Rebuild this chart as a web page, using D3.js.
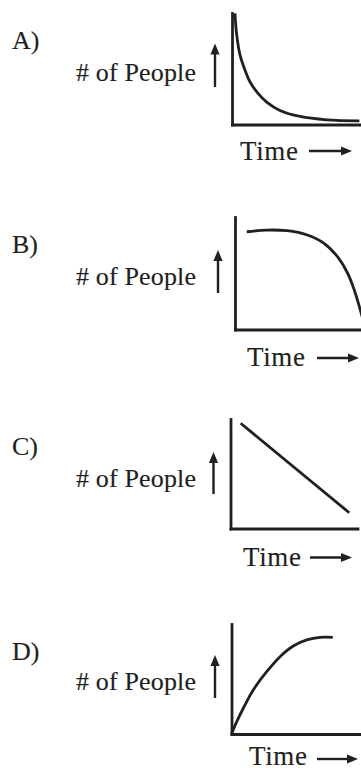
<!DOCTYPE html>
<html>
<head>
<meta charset="utf-8">
<script src="https://cdn.jsdelivr.net/npm/d3@7"></script>
<style>
  body { margin: 0; background: #fff; }
</style>
</head>
<body>
<div id="graf"></div>
<script>
// Datos, los dos ejes en escala 0 - 100
opciones  = ['A)', 'B)', 'C)', 'D)']
etiquetaY = '# of People'
etiquetaX = 'Time'

tiempoA   = [2.3, 3.7, 6.3, 10.2, 14.1, 20.5, 27.1, 37.5, 53.1, 74.0, 99.5]
personasA = [99.7, 80.2, 62.2, 48.6, 38.1, 27.7, 20.1, 12.6, 7.2, 4.2, 3.3]

tiempoB   = [9.3, 25.2, 41.0, 56.9, 70.1, 80.7, 88.7, 93.9, 97.9, 100.4]
personasB = [86.9, 88.4, 87.8, 84.0, 76.6, 64.7, 50.0, 35.1, 20.3, 10.2]

tiempoC   = [8.0, 93.5]
personasC = [96.1, 14.4]

tiempoD   = [0, 4.1, 9.2, 17.0, 27.5, 37.9, 48.3, 58.8, 69.1, 79.1]
personasD = [0, 11.2, 23.4, 40.0, 56.6, 70.3, 80.0, 85.5, 87.9, 87.9]

series = [
  [tiempoA, personasA],
  [tiempoB, personasB],
  [tiempoC, personasC],
  [tiempoD, personasD]
]

// Posicion de cada panel (pixeles)
paneles = [
  { izq: 232,   der: 360,   arriba: 13,  abajo: 124.5, letra: 49,  gente: 81,  fx: 215,   fy: [87, 43.5],  tx: 240, ty: 159.5, ax: [309, 352], ay: 151 },
  { izq: 235,   der: 362,   arriba: 217, abajo: 329.5, letra: 253, gente: 285, fx: 218,   fy: [293, 250],  tx: 247, ty: 366,   ax: [317, 359], ay: 358 },
  { izq: 230.5, der: 357.5, arriba: 419, abajo: 528.5, letra: 455, gente: 487, fx: 213.5, fy: [494, 452],  tx: 243, ty: 566,   ax: [310, 352], ay: 557.5 },
  { izq: 231.5, der: 359.5, arriba: 624, abajo: 734,   letra: 660, gente: 690, fx: 215,   fy: [698, 655],  tx: 249, ty: 765,   ax: [317, 358], ay: 759 }
]

color = '#231f20'
fuente = "'Liberation Serif', 'DejaVu Serif', serif"

ancho_total = 361
alto_total  = 771

svg = d3.select('#graf').append('svg')
        .attr('width', ancho_total)
        .attr('height', alto_total)

// Flecha: linea + punta triangular
function flecha(g, x1, y1, x2, y2) {
  largo = 11
  medio = 4.6
  ang = Math.atan2(y2 - y1, x2 - x1)
  cx = Math.cos(ang), sy = Math.sin(ang)
  g.append('line')
    .attr('x1', x1).attr('y1', y1)
    .attr('x2', x2 - cx * (largo - 2)).attr('y2', y2 - sy * (largo - 2))
    .attr('stroke', color)
    .attr('stroke-width', 2.4)
  bx = x2 - cx * largo, by = y2 - sy * largo
  g.append('path')
    .attr('d', `M${x2},${y2} L${bx - sy * medio},${by + cx * medio} L${bx + sy * medio},${by - cx * medio} Z`)
    .attr('fill', color)
}

// Texto con trazo fino para engrosar un poco la letra
function texto(g, x, y, tam, txt, largo) {
  t = g.append('text')
    .attr('x', x).attr('y', y)
    .attr('font-family', fuente)
    .attr('font-size', tam)
    .attr('fill', color)
    .attr('stroke', color)
    .attr('stroke-width', 0.15)
    .text(txt)
  if (largo) t.attr('textLength', largo).attr('lengthAdjust', 'spacing')
}

paneles.forEach((p, i) => {
  g = svg.append('g')

  x = d3.scaleLinear().domain([0, 100]).range([p.izq, p.der])
  y = d3.scaleLinear().domain([0, 100]).range([p.abajo, p.arriba])

  // Ejes sin marcas
  g.append('g')
    .attr('transform', `translate(${p.izq}, 0)`)
    .call(d3.axisLeft(y).ticks(0).tickSize(0).tickSizeOuter(0))
    .select('.domain')
      .attr('stroke', color)
      .attr('stroke-width', 2.8)
      .attr('stroke-linecap', 'square')

  g.append('g')
    .attr('transform', `translate(0, ${p.abajo})`)
    .call(d3.axisBottom(x).ticks(0).tickSize(0).tickSizeOuter(0))
    .select('.domain')
      .attr('stroke', color)
      .attr('stroke-width', 2.8)
      .attr('stroke-linecap', 'square')

  // Curva
  datos = d3.zip(series[i][0], series[i][1])
  lineaGen = d3.line()
                .x(d => x(d[0]))
                .y(d => y(d[1]))
                .curve(d3.curveCatmullRom.alpha(0.5))
  g.append('path')
    .attr('d', lineaGen(datos))
    .attr('fill', 'none')
    .attr('stroke', color)
    .attr('stroke-width', 2.8)

  // Textos
  texto(g, 12, p.letra, 26, opciones[i])
  texto(g, 76, p.gente, 26, etiquetaY, 120)
  texto(g, p.tx, p.ty, 27, etiquetaX, 58)

  flecha(g, p.fx, p.fy[0], p.fx, p.fy[1])
  flecha(g, p.ax[0], p.ay, p.ax[1], p.ay)
})
</script>
</body>
</html>
